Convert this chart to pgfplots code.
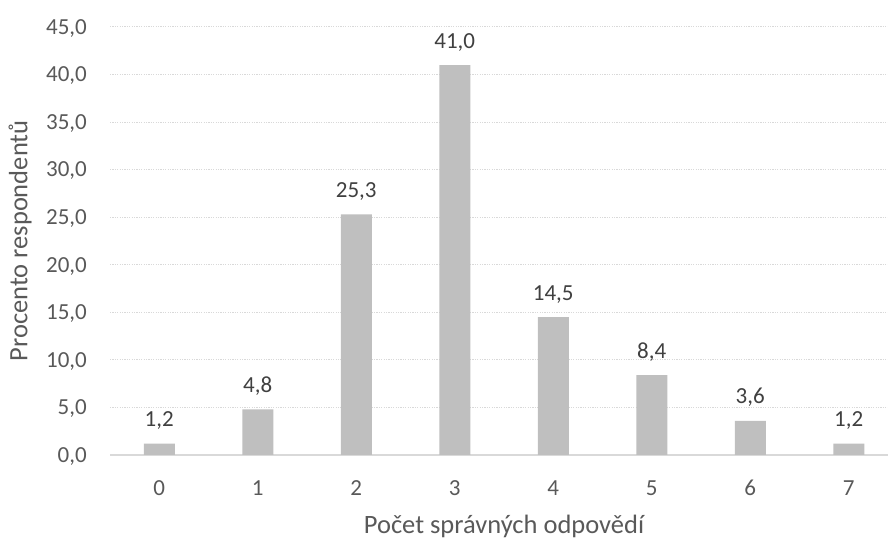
\documentclass[border=0pt]{standalone}
\usepackage{pgfplots}
\pgfplotsset{compat=1.18}
\usepackage{fontspec}
\setmainfont{Carlito}
\definecolor{barfill}{HTML}{BFBFBF}
\definecolor{gridc}{HTML}{D9D9D9}
\definecolor{labc}{HTML}{595959}
\definecolor{valc}{HTML}{404040}
\newcommand{\tickfont}{\fontsize{23bp}{27bp}\selectfont}
\newcommand{\titlefont}{\fontsize{26.5bp}{31bp}\selectfont}

\begin{document}
\begin{tikzpicture}
\path[use as bounding box] (0,0) rectangle (888bp,538bp);
\begin{axis}[
  at={(110bp,83bp)}, anchor=south west,
  scale only axis, width=788bp, height=428bp,
  xmin=-0.5, xmax=7.5, ymin=0, ymax=45,
  ybar, bar width=31bp,
  xtick={0,...,7}, ytick={0,5,...,45},
  axis x line*=bottom, axis y line*=left,
  x axis line style={gridc, line width=1.4bp, -},
  y axis line style={draw=none},
  major tick length=0pt,
  ymajorgrids,
  grid style={gridc, line width=1bp, dash pattern=on 1.2bp off 1.2bp},
  /pgf/number format/.cd, use comma, fixed, fixed zerofill, precision=1, assume math mode=true,
  /pgfplots/.cd,
  yticklabel style={font=\tickfont, anchor=base east, inner sep=0pt, xshift=-23bp, yshift=-7.3bp, text=labc},
  xticklabel style={font=\tickfont, anchor=base, inner sep=0pt, yshift=-40bp, text=labc,
    /pgf/number format/precision=0, /pgf/number format/fixed zerofill=false},
  xlabel={Počet správných odpovědí},
  ylabel={Procento respondentů},
  xlabel style={font=\titlefont, at={(axis description cs:0.5,0)}, anchor=base, inner sep=0pt, yshift=-78bp, text=labc},
  ylabel style={font=\titlefont, at={(axis description cs:0,0.5)}, anchor=center, inner sep=0pt, yshift=90bp, text=labc},
  nodes near coords,
  every node near coord/.append style={font=\tickfont, anchor=base, yshift=17bp, text=valc, inner sep=0pt},
]
\addplot[fill=barfill, draw=none] coordinates {
  (0,1.2) (1,4.8) (2,25.3) (3,41.0) (4,14.5) (5,8.4) (6,3.6) (7,1.2)
};
\end{axis}
\end{tikzpicture}
\end{document}
